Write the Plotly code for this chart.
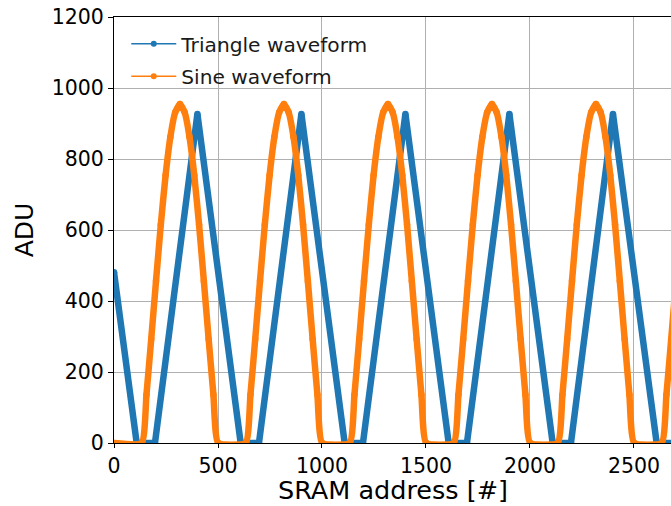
import plotly.graph_objects as go

# ---- data ----
# Triangle waveform (vertices of the piecewise-linear curve)
tri_x = [0, 109, 197, 401, 609, 697, 901, 1109, 1197, 1401, 1609, 1697,
         1901, 2109, 2197, 2399, 2609, 2697]
tri_y = [481, 0, 0, 927, 0, 0, 927, 0, 0, 927, 0, 0,
         927, 0, 0, 927, 0, 0]

# Sine waveform (clipped at 0), sampled points
sine_x = [0, 133, 156, 179, 202, 225, 248, 271, 294, 317, 340, 363, 386, 409, 432, 455, 478, 501,
          633, 656, 679, 702, 725, 748, 771, 794, 817, 840, 863, 886, 909, 932, 955, 978, 1001,
          1133, 1156, 1179, 1202, 1225, 1248, 1271, 1294, 1317, 1340, 1363, 1386, 1409, 1432, 1455, 1478, 1501,
          1633, 1656, 1679, 1702, 1725, 1748, 1771, 1794, 1817, 1840, 1863, 1886, 1909, 1932, 1955, 1978, 2001,
          2133, 2156, 2179, 2202, 2225, 2248, 2271, 2294, 2317, 2340, 2363, 2386, 2409, 2432, 2455, 2478, 2501,
          2633, 2656, 2679, 2702]
sine_y = [0, 0, 136, 293, 456, 615, 754, 862, 931, 955, 931, 862, 754, 615, 456, 293, 136, 0,
          0, 136, 293, 456, 615, 754, 862, 931, 955, 931, 862, 754, 615, 456, 293, 136, 0,
          0, 136, 293, 456, 615, 754, 862, 931, 955, 931, 862, 754, 615, 456, 293, 136, 0,
          0, 136, 293, 456, 615, 754, 862, 931, 955, 931, 862, 754, 615, 456, 293, 136, 0,
          0, 136, 293, 456, 615, 754, 862, 931, 955, 931, 862, 754, 615, 456, 293, 136, 0,
          0, 136, 293, 456]

series_names = ["Triangle waveform", "Sine waveform"]
colors = ["#1f77b4", "#ff7f0e"]

x_ticks = [0, 500, 1000, 1500, 2000, 2500]
y_ticks = [0, 200, 400, 600, 800, 1000, 1200]
x_title = "SRAM address [#]"
y_title = "ADU"

FONT = "DejaVu Sans, Liberation Sans, sans-serif"
LW = 6.5

fig = go.Figure()

# thick data curves (no legend)
fig.add_trace(go.Scatter(x=tri_x, y=tri_y, mode="lines+markers", showlegend=False,
                         line=dict(color=colors[0], width=LW),
                         marker=dict(color=colors[0], size=LW, line=dict(width=0)),
                         hoverinfo="skip"))
fig.add_trace(go.Scatter(x=sine_x, y=sine_y, mode="lines+markers", showlegend=False,
                         line=dict(color=colors[1], width=LW, shape="spline", smoothing=0.45),
                         marker=dict(color=colors[1], size=LW, line=dict(width=0)),
                         hoverinfo="skip"))

# legend entries (thin line with dot marker, like matplotlib '.-')
for i, (name, c) in enumerate(zip(series_names, colors)):
    fig.add_trace(go.Scatter(x=[None], y=[None], mode="lines+markers", name=name,
                             legendgroup=f"g{i}",
                             line=dict(color=c, width=1.5),
                             marker=dict(color=c, size=6)))

fig.update_layout(
    width=671, height=506,
    margin=dict(l=114, r=0, t=17, b=63, pad=0),
    paper_bgcolor="white", plot_bgcolor="white",
    font=dict(family=FONT, size=21, color="#000000"),
    showlegend=True,
    legend=dict(x=0.022, y=0.983, xanchor="left", yanchor="top",
                bgcolor="rgba(0,0,0,0)", borderwidth=0,
                font=dict(family=FONT, size=20.2, color="#1a1a1a"),
                traceorder="grouped", tracegroupgap=3,
                itemwidth=45),
    annotations=[dict(text=x_title, xref="paper", yref="paper",
                      x=0.5, y=-63 / 426, xanchor="center", yanchor="bottom",
                      yshift=0, showarrow=False, borderpad=0,
                      font=dict(family=FONT, size=25.5, color="#000000"))],
)

fig.update_xaxes(
    range=[0, 2678], tickvals=x_ticks, ticktext=[str(v) for v in x_ticks],
    showgrid=True, gridcolor="#b0b0b0", gridwidth=1,
    showline=True, linecolor="#000000", linewidth=1.2, mirror=True,
    ticks="outside", ticklen=4, tickwidth=1.2, tickcolor="#000000",
    zeroline=False,
    tickfont=dict(family=FONT, size=20.5),
)
fig.update_yaxes(
    range=[0, 1200], tickvals=y_ticks, ticktext=[str(v) for v in y_ticks],
    showgrid=True, gridcolor="#b0b0b0", gridwidth=1,
    showline=True, linecolor="#000000", linewidth=1.2, mirror=False,
    ticks="outside", ticklen=5, tickwidth=1.2, tickcolor="#000000",
    zeroline=False,
    title=dict(text=y_title, font=dict(family=FONT, size=25), standoff=10),
    tickfont=dict(family=FONT, size=20.5),
)

fig.write_html("out.html")
